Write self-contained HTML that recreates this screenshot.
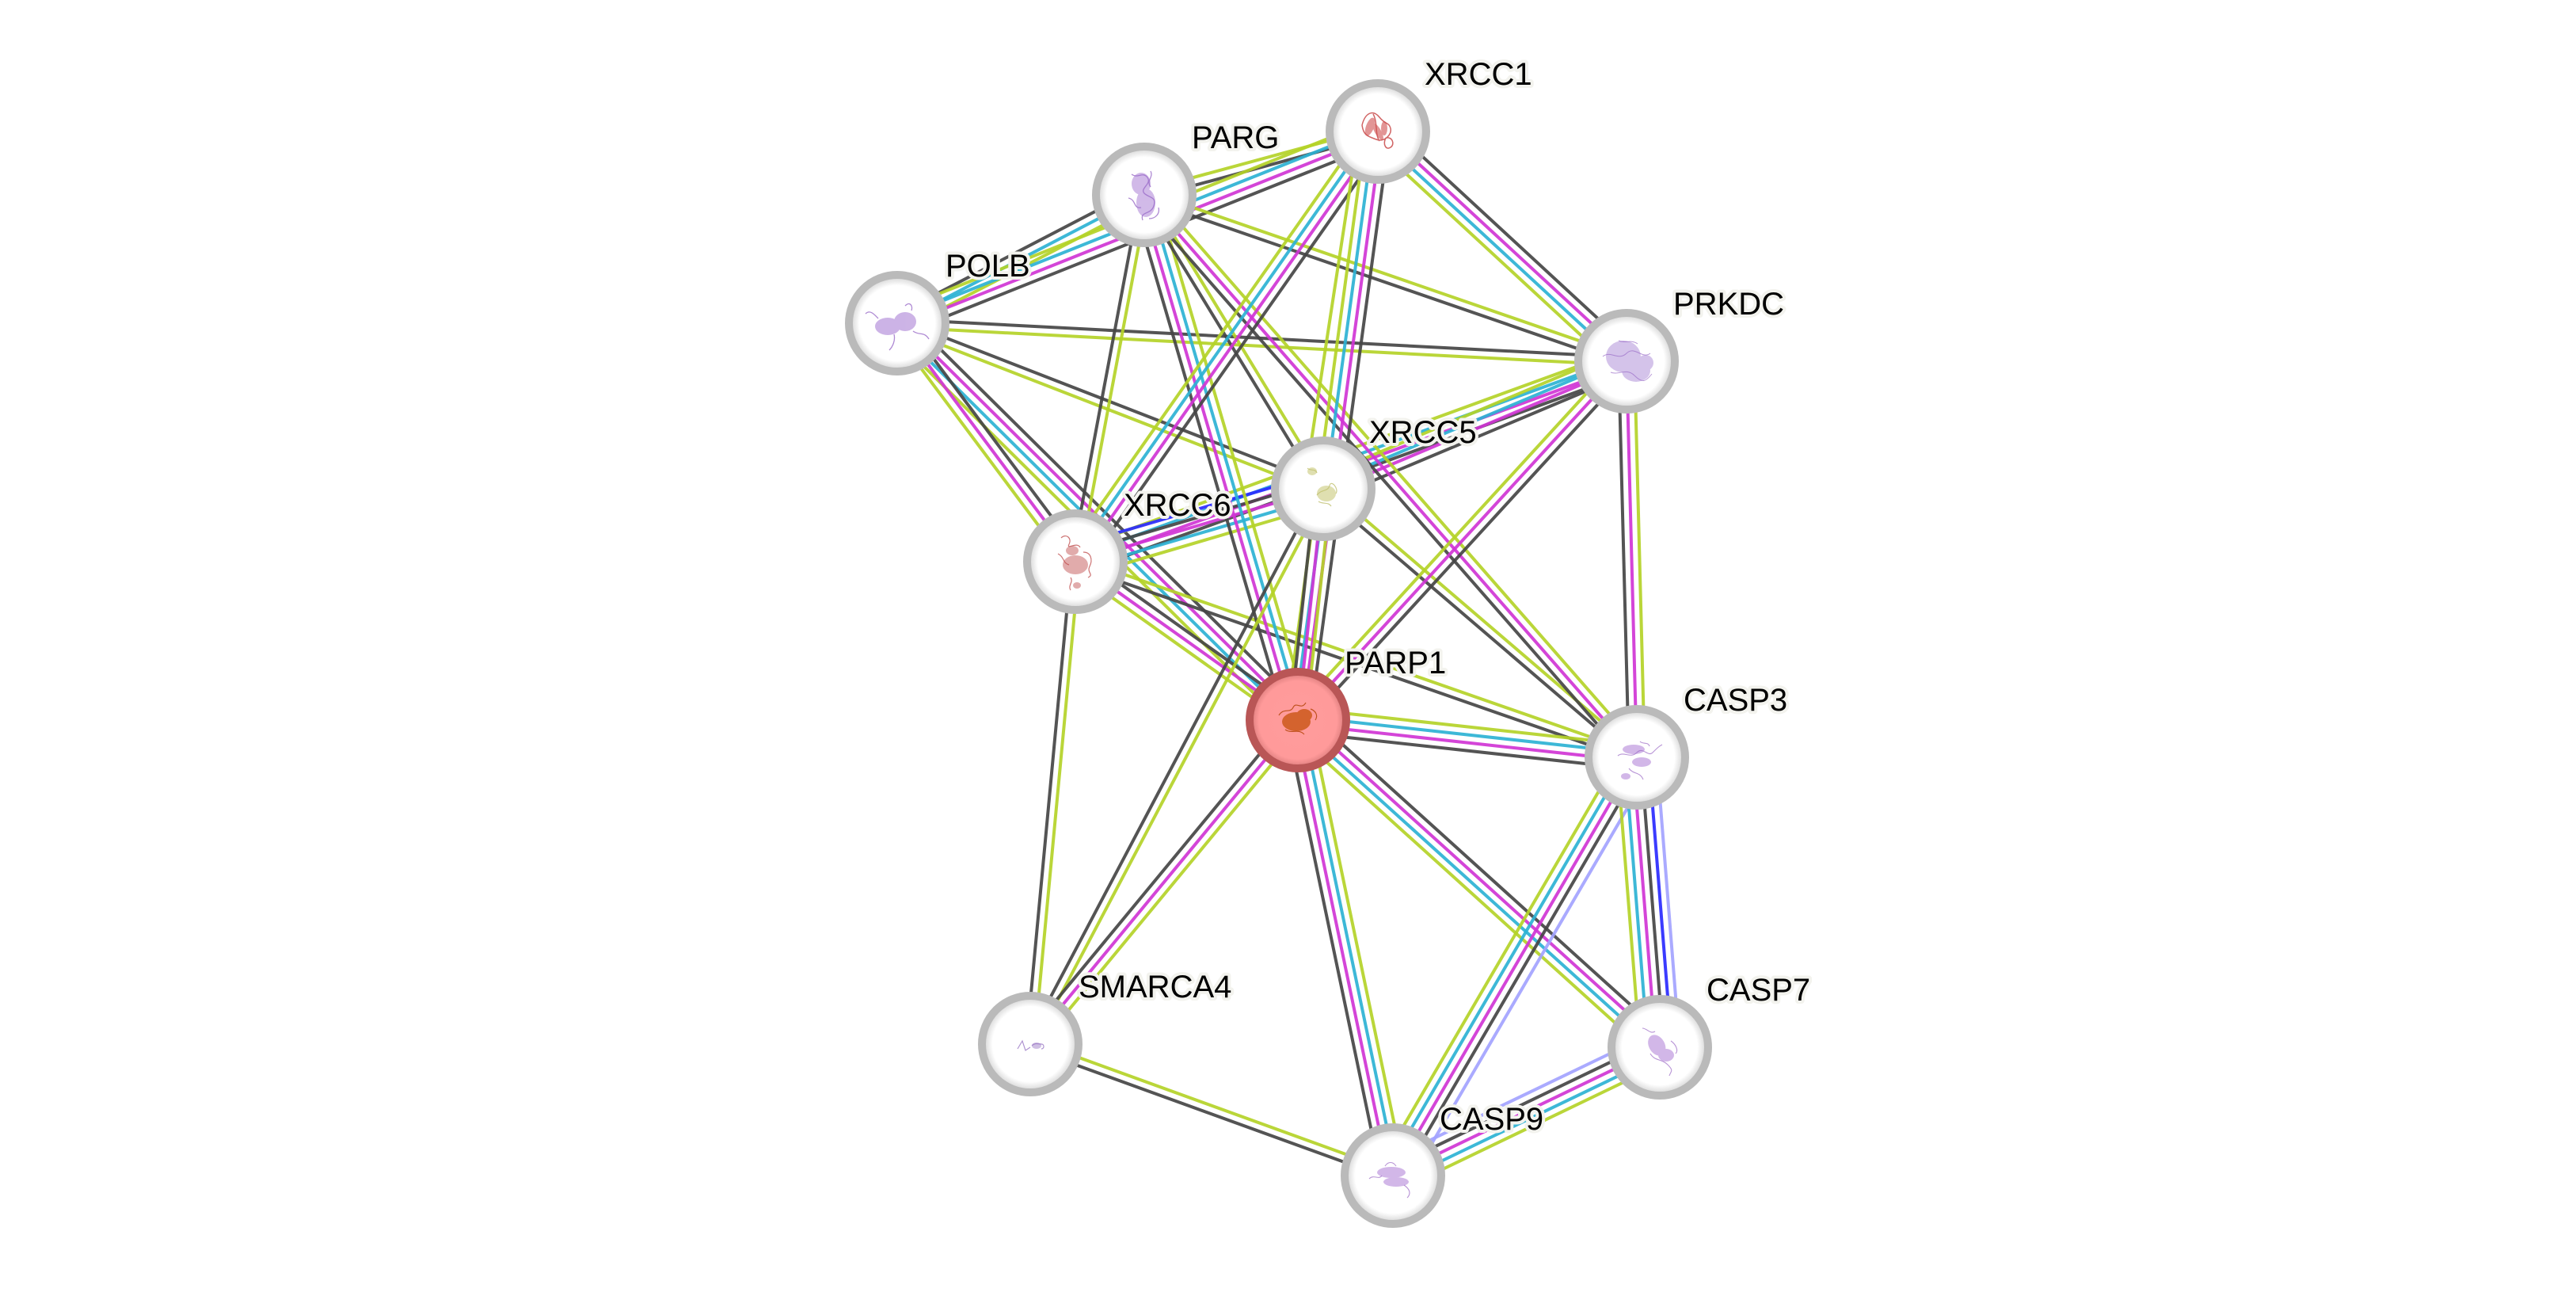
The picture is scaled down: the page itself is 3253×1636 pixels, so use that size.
<!DOCTYPE html>
<html><head><meta charset="utf-8"><style>
html,body{margin:0;padding:0;background:#fff;}
svg{display:block;}
.G{stroke:#b4d228}.C{stroke:#2cb2d4}.M{stroke:#d035d5}.K{stroke:#454545}.B{stroke:#2a2aff}.L{stroke:#a3a3ff}
.e path{stroke-width:4;fill:none;stroke-opacity:0.92}
.lab{font-family:"Liberation Sans",Arial,sans-serif;font-size:40px;fill:#000;stroke:#f3f3ee;stroke-width:8;paint-order:stroke;stroke-linejoin:round;}
</style></head><body>
<svg width="3253" height="1636" viewBox="0 0 3253 1636" xmlns="http://www.w3.org/2000/svg">
<defs>
<radialGradient id="ng" cx="50%" cy="50%" r="50%">
<stop offset="0%" stop-color="#ffffff"/><stop offset="82%" stop-color="#ffffff"/><stop offset="100%" stop-color="#d8d8d8"/>
</radialGradient>
<radialGradient id="rg" cx="50%" cy="50%" r="50%">
<stop offset="0%" stop-color="#ff9c9c"/><stop offset="85%" stop-color="#ff9a9a"/><stop offset="100%" stop-color="#e08080"/>
</radialGradient>
</defs>
<rect width="3253" height="1636" fill="#fff"/>

<g class="e">
<g transform="translate(1445,246) rotate(-15.17)"><path class="G" d="M0,-5H305.65"/><path class="K" d="M0,5H305.65"/></g>
<g transform="translate(1133,408) rotate(-27.44)"><path class="K" d="M0,-10H351.55"/><path class="C" d="M0,0H351.55"/><path class="G" d="M0,10H351.55"/></g>
<g transform="translate(1133,408) rotate(-21.74)"><path class="G" d="M0,-15H653.46"/><path class="C" d="M0,-5H653.46"/><path class="M" d="M0,5H653.46"/><path class="K" d="M0,15H653.46"/></g>
<g transform="translate(1133,408) rotate(2.98)"><path class="K" d="M0,-5H922.25"/><path class="G" d="M0,5H922.25"/></g>
<g transform="translate(1133,408) rotate(21.23)"><path class="K" d="M0,-5H577.17"/><path class="G" d="M0,5H577.17"/></g>
<g transform="translate(1133,408) rotate(44.72)"><path class="K" d="M0,-15H712.07"/><path class="M" d="M0,-5H712.07"/><path class="C" d="M0,5H712.07"/><path class="G" d="M0,15H712.07"/></g>
<g transform="translate(1445,246) rotate(19.03)"><path class="G" d="M0,-5H644.19"/><path class="K" d="M0,5H644.19"/></g>
<g transform="translate(1740,166) rotate(42.72)"><path class="K" d="M0,-15H427.43"/><path class="M" d="M0,-5H427.43"/><path class="C" d="M0,5H427.43"/><path class="G" d="M0,15H427.43"/></g>
<g transform="translate(1358,709) rotate(-19.98)"><path class="G" d="M0,-15H740.56"/><path class="C" d="M0,-5H740.56"/><path class="M" d="M0,5H740.56"/><path class="K" d="M0,15H740.56"/></g>
<g transform="translate(1671,617) rotate(-22.80)"><path class="G" d="M0,-15H415.46"/><path class="C" d="M0,-5H415.46"/><path class="M" d="M0,5H415.46"/><path class="K" d="M0,15H415.46"/></g>
<g transform="translate(1358,709) rotate(-16.38)"><path class="B" d="M0,-20H326.24"/><path class="K" d="M0,-10H326.24"/><path class="M" d="M0,0H326.24"/><path class="C" d="M0,10H326.24"/><path class="G" d="M0,20H326.24"/></g>
<g transform="translate(1671,617) rotate(40.57)"><path class="G" d="M0,-5H521.28"/><path class="K" d="M0,5H521.28"/></g>
<g transform="translate(1358,709) rotate(19.21)"><path class="G" d="M0,-5H750.79"/><path class="K" d="M0,5H750.79"/></g>
<g transform="translate(1358,709) rotate(35.44)"><path class="K" d="M0,-10H344.91"/><path class="M" d="M0,0H344.91"/><path class="G" d="M0,10H344.91"/></g>
<g transform="translate(1639,909) rotate(6.27)"><path class="G" d="M0,-15H430.57"/><path class="C" d="M0,-5H430.57"/><path class="M" d="M0,5H430.57"/><path class="K" d="M0,15H430.57"/></g>
<g transform="translate(1639,909) rotate(42.11)"><path class="K" d="M0,-15H615.97"/><path class="M" d="M0,-5H615.97"/><path class="C" d="M0,5H615.97"/><path class="G" d="M0,15H615.97"/></g>
<g transform="translate(1301,1318) rotate(19.92)"><path class="G" d="M0,-5H487.16"/><path class="K" d="M0,5H487.16"/></g>
<g transform="translate(1759,1484) rotate(-25.68)"><path class="L" d="M0,-20H373.92"/><path class="K" d="M0,-10H373.92"/><path class="M" d="M0,0H373.92"/><path class="C" d="M0,10H373.92"/><path class="G" d="M0,20H373.92"/></g>

<g transform="translate(1358,709) rotate(-126.78)"><path class="G" d="M0,-10H375.80"/><path class="M" d="M0,0H375.80"/><path class="K" d="M0,10H375.80"/></g>
<g transform="translate(1358,709) rotate(-79.36)"><path class="K" d="M0,-5H471.10"/><path class="G" d="M0,5H471.10"/></g>
<g transform="translate(1639,909) rotate(-106.31)"><path class="K" d="M0,-15H690.80"/><path class="M" d="M0,-5H690.80"/><path class="C" d="M0,5H690.80"/><path class="G" d="M0,15H690.80"/></g>
<g transform="translate(1671,617) rotate(-121.35)"><path class="K" d="M0,-5H434.42"/><path class="G" d="M0,5H434.42"/></g>
<g transform="translate(2067,956) rotate(-131.22)"><path class="K" d="M0,-10H943.92"/><path class="M" d="M0,0H943.92"/><path class="G" d="M0,10H943.92"/></g>
<g transform="translate(1358,709) rotate(-54.88)"><path class="G" d="M0,-15H663.91"/><path class="C" d="M0,-5H663.91"/><path class="M" d="M0,5H663.91"/><path class="K" d="M0,15H663.91"/></g>
<g transform="translate(1639,909) rotate(-82.26)"><path class="G" d="M0,-15H749.83"/><path class="C" d="M0,-5H749.83"/><path class="M" d="M0,5H749.83"/><path class="K" d="M0,15H749.83"/></g>
<g transform="translate(1671,617) rotate(-81.30)"><path class="G" d="M0,-24H456.25"/></g>
<g transform="translate(1639,909) rotate(-83.75)"><path class="K" d="M0,-10H293.75"/><path class="M" d="M0,0H293.75"/><path class="G" d="M0,10H293.75"/></g>
<g transform="translate(1301,1318) rotate(-62.18)"><path class="K" d="M0,-5H792.66"/><path class="G" d="M0,5H792.66"/></g>
<g transform="translate(1301,1318) rotate(-84.65)"><path class="K" d="M0,-5H611.66"/><path class="G" d="M0,5H611.66"/></g>
<g transform="translate(1639,909) rotate(-47.50)"><path class="G" d="M0,-10H614.36"/><path class="M" d="M0,0H614.36"/><path class="K" d="M0,10H614.36"/></g>
<g transform="translate(2067,956) rotate(-91.49)"><path class="K" d="M0,-10H500.17"/><path class="M" d="M0,0H500.17"/><path class="G" d="M0,10H500.17"/></g>
<g transform="translate(1759,1484) rotate(-101.79)"><path class="K" d="M0,-15H587.39"/><path class="M" d="M0,-5H587.39"/><path class="C" d="M0,5H587.39"/><path class="G" d="M0,15H587.39"/></g>
<g transform="translate(1301,1318) rotate(-50.43)"><path class="K" d="M0,-10H530.59"/><path class="M" d="M0,0H530.59"/><path class="G" d="M0,10H530.59"/></g>
<g transform="translate(1759,1484) rotate(-59.74)"><path class="G" d="M0,-20H611.27"/><path class="C" d="M0,-10H611.27"/><path class="M" d="M0,0H611.27"/><path class="K" d="M0,10H611.27"/><path class="L" d="M0,22H611.27"/></g>
<g transform="translate(2096,1322) rotate(-94.53)"><path class="G" d="M0,-25H367.15"/><path class="C" d="M0,-15H367.15"/><path class="M" d="M0,-5H367.15"/><path class="K" d="M0,5H367.15"/><path class="B" d="M0,15H367.15"/><path class="L" d="M0,25H367.15"/></g>
</g>

<g>
<g transform="translate(1740,166)"><circle r="58" fill="url(#ng)"/><circle r="61" fill="none" stroke="#bababa" stroke-width="10"/>
<g fill="none" stroke="#c84848" stroke-width="1.5" opacity="0.85"><path d="M-20,-8 c4,-16 14,-20 22,-10 s12,6 14,14 s-8,18 -18,14 s-16,-4 -18,-18 M-6,-22 c6,10 2,26 8,34 M10,8 c8,-2 12,8 6,12 s-10,-4 -6,-12"/></g>
<g fill="#d05050" opacity="0.6"><ellipse cx="-10" cy="-6" rx="5" ry="12" transform="rotate(20 -10 -6)"/><ellipse cx="0" cy="0" rx="4" ry="12" transform="rotate(-30 0 0)"/><ellipse cx="8" cy="-4" rx="4" ry="9"/></g></g>

<g transform="translate(1445,246)"><circle r="58" fill="url(#ng)"/><circle r="61" fill="none" stroke="#bababa" stroke-width="10"/>
<g fill="#a476d2" opacity="0.5"><ellipse cx="-4" cy="-14" rx="12" ry="14"/><ellipse cx="2" cy="10" rx="12" ry="18"/></g>
<g fill="none" stroke="#9a6cc8" stroke-width="1.3" opacity="0.8"><path d="M-16,-26 c8,6 14,-4 20,4 s-10,14 -4,20 s16,4 12,16 s-18,6 -14,18 M8,-30 c4,8 -6,12 0,20 M-20,4 c10,2 6,14 16,12 M6,30 c8,0 14,-6 12,-14"/></g></g>

<g transform="translate(1133,408)"><circle r="58" fill="url(#ng)"/><circle r="61" fill="none" stroke="#bababa" stroke-width="10"/>
<g fill="#a476d2" opacity="0.55"><ellipse cx="-12" cy="4" rx="16" ry="11"/><ellipse cx="10" cy="-2" rx="14" ry="12"/></g>
<g fill="none" stroke="#9a6cc8" stroke-width="1.3" opacity="0.8"><path d="M-40,-12 c6,-6 12,2 16,6 M20,10 c8,6 14,0 20,10 M-4,14 c2,8 -2,16 -6,20 M10,-22 c6,-6 10,0 8,6"/></g></g>

<g transform="translate(2054,456)"><circle r="58" fill="url(#ng)"/><circle r="61" fill="none" stroke="#bababa" stroke-width="10"/>
<g fill="#ab88d6" opacity="0.5"><ellipse cx="-4" cy="-6" rx="22" ry="20"/><ellipse cx="12" cy="12" rx="18" ry="14"/><ellipse cx="24" cy="2" rx="10" ry="10"/></g>
<g fill="none" stroke="#9a6cc8" stroke-width="1" opacity="0.7"><path d="M-30,-6 c10,-8 20,6 30,-4 s20,8 30,0 M-20,14 c10,4 20,-6 30,4 s14,8 22,-2 M-10,-26 c8,4 16,-2 24,4"/></g></g>

<g transform="translate(1671,617)"><circle r="58" fill="url(#ng)"/><circle r="61" fill="none" stroke="#bababa" stroke-width="10"/>
<g fill="#cfcf86" opacity="0.65"><ellipse cx="-14" cy="-22" rx="6" ry="5"/><ellipse cx="4" cy="6" rx="12" ry="10"/></g>
<g fill="none" stroke="#c0c070" stroke-width="1.2" opacity="0.8"><path d="M-20,-26 c4,4 10,0 12,6 M-8,8 c6,-8 14,-4 16,-12 s12,4 8,10 M-6,16 c6,4 12,0 16,6"/></g></g>

<g transform="translate(1358,709)"><circle r="58" fill="url(#ng)"/><circle r="61" fill="none" stroke="#bababa" stroke-width="10"/>
<g fill="#c45a5a" opacity="0.5"><ellipse cx="0" cy="4" rx="16" ry="12"/><ellipse cx="-4" cy="-14" rx="8" ry="6"/><ellipse cx="2" cy="30" rx="5" ry="4"/></g>
<g fill="none" stroke="#c05050" stroke-width="1.2" opacity="0.8"><path d="M-18,-30 c6,-6 14,0 10,8 s10,-4 14,4 M-22,-10 c8,4 6,12 14,14 M10,-12 c10,0 12,10 8,18 s6,10 -2,14 M-6,20 c4,6 -4,10 0,16"/></g></g>

<g transform="translate(1639,909)"><circle r="58" fill="url(#rg)"/><circle r="61" fill="none" stroke="#b95656" stroke-width="10"/>
<g fill="#c24c00" opacity="0.7"><ellipse cx="-2" cy="2" rx="18" ry="12"/><ellipse cx="8" cy="-6" rx="10" ry="8"/></g>
<g fill="none" stroke="#b04000" stroke-width="1.2" opacity="0.8"><path d="M-24,-6 c6,-10 14,-2 18,-10 s10,4 16,-6 M-16,12 c8,6 16,-2 24,6 M16,-14 c6,2 10,8 6,14"/></g></g>

<g transform="translate(2067,956)"><circle r="58" fill="url(#ng)"/><circle r="61" fill="none" stroke="#bababa" stroke-width="10"/>
<g fill="#b588da" opacity="0.6"><ellipse cx="-4" cy="-10" rx="14" ry="6"/><ellipse cx="6" cy="6" rx="12" ry="6"/><ellipse cx="-14" cy="24" rx="6" ry="4"/></g>
<g fill="none" stroke="#a070c8" stroke-width="1.1" opacity="0.75"><path d="M-24,-2 c8,-6 16,4 24,-4 s14,6 20,0 s8,-8 12,-10 M-10,14 c6,8 14,4 18,14 M4,-20 c4,4 10,0 12,6"/></g></g>

<g transform="translate(2096,1322)"><circle r="58" fill="url(#ng)"/><circle r="61" fill="none" stroke="#bababa" stroke-width="10"/>
<g fill="#b588da" opacity="0.6"><ellipse cx="-2" cy="-4" rx="10" ry="14" transform="rotate(-30)"/><ellipse cx="8" cy="10" rx="10" ry="8"/></g>
<g fill="none" stroke="#a070c8" stroke-width="1.1" opacity="0.75"><path d="M-22,-24 c6,0 10,8 16,4 M-12,8 c6,10 14,6 22,14 s4,8 2,14 M14,-8 c6,4 10,12 6,16"/></g></g>

<g transform="translate(1301,1318)"><circle r="58" fill="url(#ng)"/><circle r="61" fill="none" stroke="#bababa" stroke-width="10"/>
<g fill="none" stroke="#a080c8" stroke-width="1.2" opacity="0.85"><path d="M-16,6 l6,-10 l4,12 l6,-4 M2,2 c4,-4 8,-2 12,-2 s4,6 0,6"/></g>
<g fill="#a080c8" opacity="0.5"><ellipse cx="8" cy="2" rx="6" ry="4"/></g></g>

<g transform="translate(1759,1484)"><circle r="58" fill="url(#ng)"/><circle r="61" fill="none" stroke="#bababa" stroke-width="10"/>
<g fill="#b588da" opacity="0.6"><ellipse cx="-2" cy="-4" rx="18" ry="7"/><ellipse cx="4" cy="8" rx="16" ry="6"/></g>
<g fill="none" stroke="#a070c8" stroke-width="1.1" opacity="0.75"><path d="M-30,4 c6,-6 12,2 16,-4 M14,12 c6,4 10,10 4,16 M-10,-12 c4,-6 10,-6 14,0"/></g></g>
</g>

<g class="lab">
<text x="1799" y="107">XRCC1</text>
<text x="1505" y="187">PARG</text>
<text x="1194" y="349">POLB</text>
<text x="2113" y="397">PRKDC</text>
<text x="1729" y="559">XRCC5</text>
<text x="1419" y="651">XRCC6</text>
<text x="1698" y="850">PARP1</text>
<text x="2126" y="897">CASP3</text>
<text x="2155" y="1263">CASP7</text>
<text x="1362" y="1259">SMARCA4</text>
<text x="1818" y="1426">CASP9</text>
</g>
</svg>
</body></html>
